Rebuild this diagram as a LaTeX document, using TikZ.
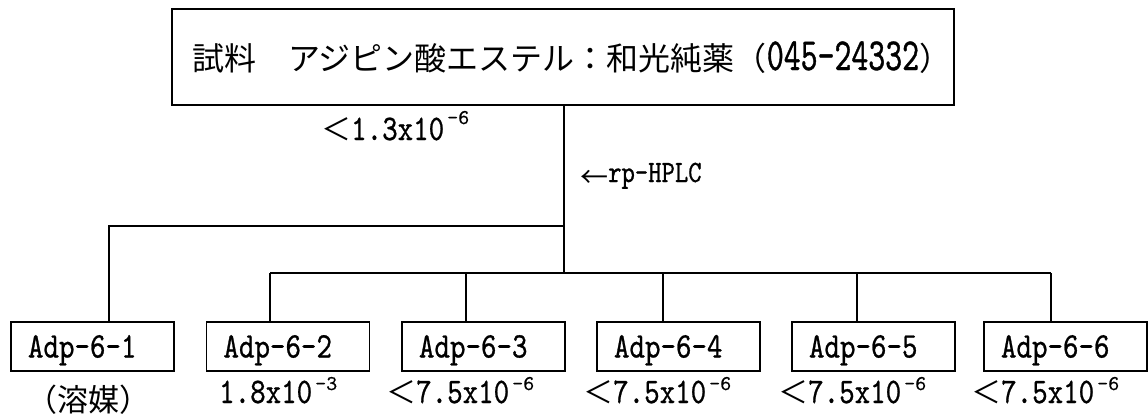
\documentclass[tikz,border=0pt]{standalone}
\usepackage{fontspec}
\usetikzlibrary{calc}
\newfontfamily\cjk{Noto Sans CJK JP}
\newfontfamily\hwT[FakeStretch=0.70,FakeBold=0.8]{lmmono10-regular.otf}
\newfontfamily\hwB[FakeStretch=0.82,FakeBold=0.7]{lmmono10-regular.otf}
\newfontfamily\hwS[FakeBold=0.6]{lmmono10-regular.otf}
\newcommand{\supx}[2][13pt]{\hspace{3pt}\raisebox{#1}{\fontsize{21}{21}\selectfont\hwS #2}}
\newcommand{\lessw}{{\fontsize{30}{30}\selectfont\cjk ＜}}
\begin{document}
\begin{tikzpicture}[x=1pt,y=-1pt,
  line/.style={line width=1.5pt},
  bigbox/.style={draw,line width=1.5pt,minimum width=782pt,minimum height=96pt,inner sep=0pt},
  adp/.style={draw,line width=1.5pt,minimum width=163pt,minimum height=49pt,inner xsep=17pt,inner ysep=0pt,
    text width=129pt,align=left,text height=22pt,text depth=0pt,font=\fontsize{36}{36}\selectfont\hwB},
  val/.style={anchor=base west,inner sep=0pt,font=\fontsize{36}{36}\selectfont\hwB},
  cj/.style={inner sep=0pt,font=\fontsize{31}{31}\selectfont\cjk},
]
\useasboundingbox (0,0) rectangle (1148,416);
% top box
\node[bigbox] (top) at (563,57) {};
\node[anchor=base west,inner sep=0pt] (title) at (192,70)
  {\fontsize{32}{32}\selectfont\cjk 試料　アジピン酸エステル：和光純薬（{\fontsize{46}{46}\selectfont\hwT 045-24332}）};
\node[val] (v0) at (321,140) {\lessw 1.3x10\supx[16pt]{-6}};
\node[val,font=\fontsize{31}{31}\selectfont\hwB] (hplc) at (580,182) {{\fontsize{28}{28}\selectfont\cjk\raisebox{-5pt}{←}}rp-HPLC};
% result boxes
\node[adp] (b1) at (92.5,346.5) {Adp-6-1};
\node[adp] (b2) at (288,346.5) {Adp-6-2};
\node[adp] (b3) at (483.5,346.5) {Adp-6-3};
\node[adp] (b4) at (678.5,346.5) {Adp-6-4};
\node[adp] (b5) at (873.5,346.5) {Adp-6-5};
\node[adp] (b6) at (1065.5,346.5) {Adp-6-6};
% values
\node[cj] (v1) at (88,400) {（溶媒）};
\node[val] (v2) at (219,403) {1.8x10\supx{-3}};
\node[val] (v3) at (386,403) {\lessw 7.5x10\supx{-6}};
\node[val] (v4) at (583,403) {\lessw 7.5x10\supx{-6}};
\node[val] (v5) at (778,403) {\lessw 7.5x10\supx{-6}};
\node[val] (v6) at (971,403) {\lessw 7.5x10\supx{-6}};
% connectors
\coordinate (jA) at (564,226);
\coordinate (jB) at (564,273);
\coordinate (t1) at (109,226);
\coordinate (t2) at (270,273);
\coordinate (t3) at (466,273);
\coordinate (t4) at (663,273);
\coordinate (t5) at (857,273);
\coordinate (t6) at (1051,273);
\draw[line] (top.south -| jA) -- (jB);
\draw[line] (jA) -- (t1) -- (t1 |- b1.north);
\draw[line] (t2) -- (t6);
\draw[line] (t2) -- (t2 |- b2.north);
\draw[line] (t3) -- (t3 |- b3.north);
\draw[line] (t4) -- (t4 |- b4.north);
\draw[line] (t5) -- (t5 |- b5.north);
\draw[line] (t6) -- (t6 |- b6.north);
\end{tikzpicture}
\end{document}
